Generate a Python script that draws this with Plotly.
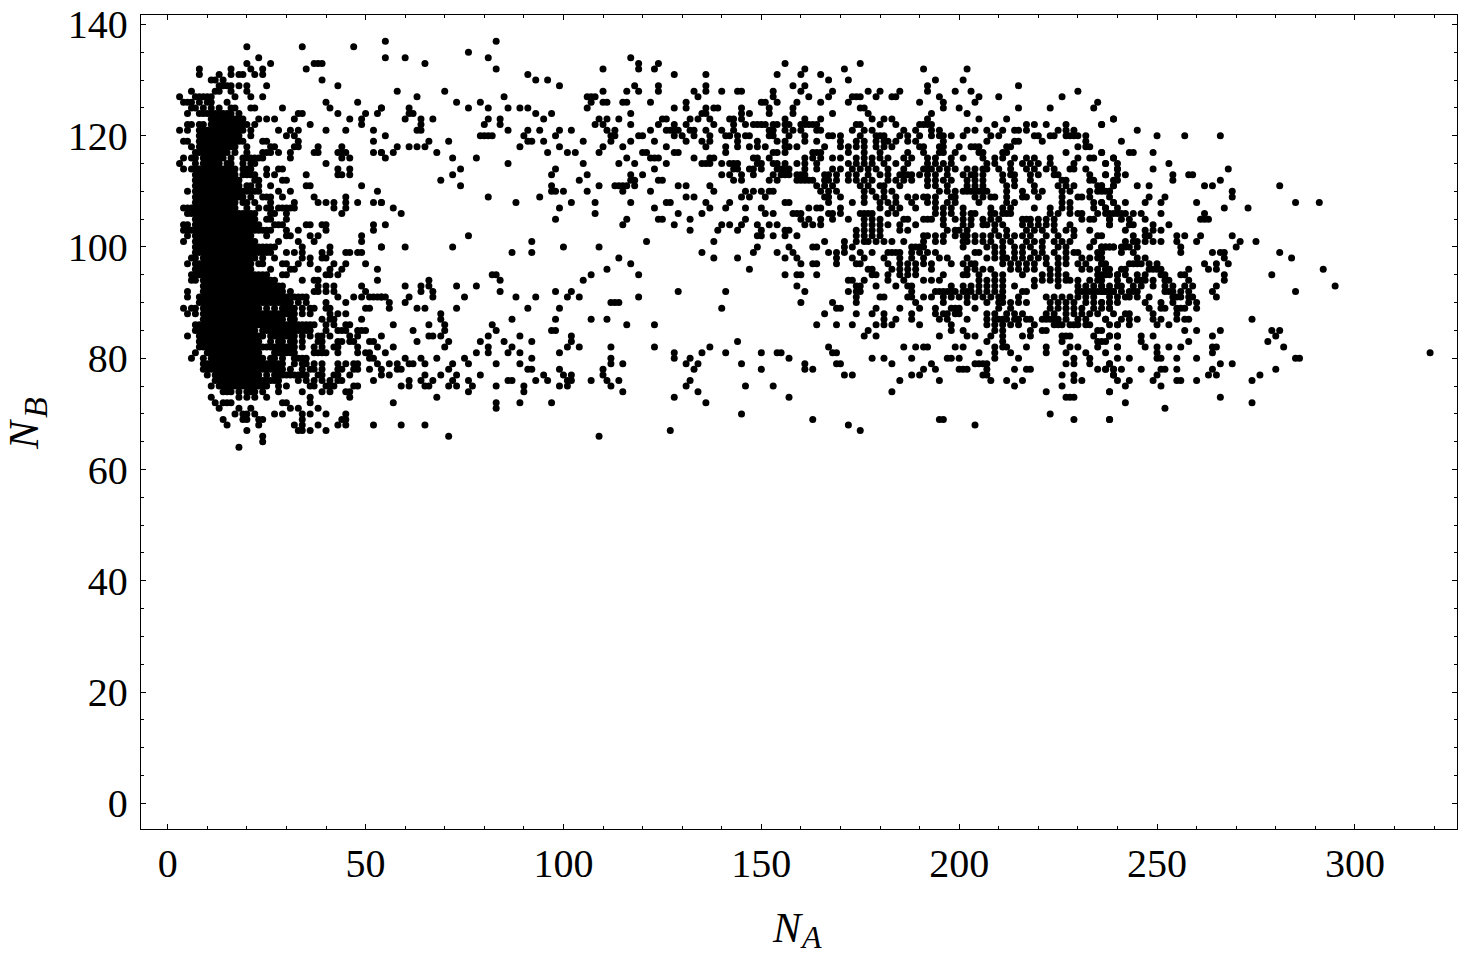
import plotly.graph_objects as go

# NB level -> NA values, by region of the plot
LEFT_ROWS = {
136:[20,34,47],134:[23],133:[20,26,37,38,39],132:[8,16,21,24,35],131:[8,13,16,18,19,22,24],
130:[11,12,14,39],129:[13,14,15,16,18,20,25,43],128:[6,12,13,16,20],127:[3,7,8,9,10,11,17,21,24],
126:[4,5,6,8,10,11,15,40,48],125:[6,7,9,11,13,16,17,21,22,29,41,54],
124:[5,8,9,10,11,12,13,14,15,16,18,33,34,43,50,53],
123:[11,12,13,14,15,16,17,18,19,23,25,27,32,46,49],
122:[5,6,8,9,11,12,13,14,15,16,17,18,19,20,22,36,49],
121:[3,5,8,9,10,11,12,13,14,15,16,17,18,19,21,28,31,33,40,45,52],
120:[8,9,10,11,12,13,14,15,16,17,18,21,30,32],
119:[4,5,8,9,10,11,12,13,14,15,16,17,18,19,24,25,33,52],
118:[6,8,9,10,11,12,13,14,15,16,17,20,26,27,32,33,38,44],
117:[7,8,9,10,11,12,13,14,15,17,20,24,25,26,28,31,37,38,43,44,45,52,54],
116:[4,6,7,9,10,11,12,13,14,16,19,20,21,22,23,24,31,44,46],
115:[3,7,9,10,11,12,13,15,16,19,21,22,40],
114:[4,6,7,8,9,10,11,12,13,14,15,16,17,19,20,21,25,28,29,43,46],
113:[7,8,9,10,11,12,13,14,15,16,17,19,20,21,22,25,27,35,43,44,46],
112:[7,8,9,10,11,12,13,14,15,16,17,18,22,23,29,30],
111:[7,8,9,10,11,12,13,14,15,16,17,18,20,21,23,26,35,36,49],
110:[5,7,8,9,10,11,12,13,14,15,16,17,18,19,20,21,22,23,28,31,53],
109:[7,8,9,10,11,12,13,14,15,16,17,18,19,21,24,25,26,29,37,45],
108:[7,8,9,10,11,12,13,14,15,16,17,19,20,22,26,32,38,40,42,45,48,52,54],
107:[4,5,6,7,8,9,10,11,12,13,14,15,16,17,20,23,25,26,28,29,30,31,32,42,45],
106:[5,6,7,8,9,10,11,12,13,14,15,16,17,18,19,20,21,22,26,27,30,44],
105:[7,8,9,10,11,12,13,14,15,16,17,18,19,20,21,22,25,26,30],
104:[4,5,7,8,9,10,11,12,13,14,15,16,17,18,19,20,21,22,23,27,28,29,35,36,39,40,52],
103:[4,5,6,7,8,9,10,11,12,13,14,15,16,17,18,19,20,21,22,23,24,25,26,30,33,40,52],
102:[5,7,8,9,10,11,12,13,14,15,16,17,18,19,20,21,25,30,31,36,38,49],
101:[4,7,8,9,10,11,12,13,14,15,16,17,18,19,20,21,22,28,33,37,49],
100:[7,8,9,10,11,12,13,14,15,16,17,18,19,20,21,22,23,24,25,26,27,34,41,54],
99:[7,8,9,10,11,12,13,14,15,16,17,18,19,20,21,22,23,24,25,26,30,32,34,39,41,45,46,48,49],
98:[6,7,9,10,11,12,13,14,15,16,17,18,19,20,21,22,24,27,34,36,39,40],
97:[5,7,8,9,10,11,12,13,14,15,16,17,18,19,20,21,23,24,29,30,33,36,42,45,50],
96:[7,8,9,10,11,12,13,14,15,16,17,18,19,20,21,26,31,32,38,41,44,53],
95:[6,7,8,9,10,11,12,13,14,15,16,17,18,19,20,21,22,23,24,25,29,30,40,41,43],
94:[6,7,9,10,11,12,13,14,15,16,17,18,19,20,21,22,23,24,25,26,27,34,37,38,53],
93:[9,10,11,12,13,14,15,16,17,18,19,20,21,22,23,24,25,26,27,28,29,38,40,42,49],
92:[5,9,10,11,12,13,14,15,16,17,18,19,20,21,22,23,24,25,26,27,28,29,31,37,38,40,42,50],
91:[5,8,9,10,11,12,13,14,15,16,17,18,19,20,21,22,23,24,25,26,27,28,29,30,31,32,33,34,35,43,47,49,51,52,53,54],
90:[8,9,10,11,12,13,14,15,16,17,18,19,20,21,22,23,24,25,26,27,28,29,30,31,33,35,40,45],
89:[4,6,7,9,10,11,12,13,14,15,16,17,18,19,20,21,22,23,25,27,29,30,31,32,34,36,37,40,41,50,51],
88:[5,7,9,10,11,12,13,14,15,16,17,18,19,20,21,22,23,24,25,26,27,28,29,30,31,32,34,36,41,43,45],
87:[9,10,11,12,13,14,15,16,17,18,19,20,21,22,23,24,25,26,27,28,29,31,32,39,41,42,49],
86:[7,8,9,10,11,12,13,14,15,16,17,18,19,20,21,22,23,24,25,26,27,28,29,30,31,32,33,34,35,36,37,40,42,45,46],
85:[7,8,9,10,11,12,13,14,15,16,17,18,19,20,21,22,24,25,26,27,28,29,30,31,32,33,34,35,36,40,43,44,45,48,49,50],
84:[5,8,9,10,11,12,13,14,15,16,17,18,19,20,21,22,23,24,26,27,28,29,30,31,32,34,36,38,39,41,46,48],
83:[8,9,10,11,12,13,14,15,16,17,18,19,20,21,22,23,26,28,29,31,32,34,38,39,43,44,46,47,51,52],
82:[8,9,10,11,12,13,14,15,16,17,18,19,20,21,22,23,24,25,26,27,28,29,30,31,32,34,37,39,42,43,48,53],
81:[7,10,11,12,13,14,15,16,17,18,19,20,21,22,23,27,28,29,30,31,32,37,38,39,40,43,48,50,51],
80:[6,9,11,12,13,14,15,16,17,18,19,20,21,22,23,24,26,27,29,32,33,34,35,51,52],
79:[9,10,11,12,13,14,15,16,17,18,19,20,21,22,23,24,25,26,27,28,29,32,34,35,37,39,43,45,47,48,53],
78:[9,10,11,12,13,14,15,16,17,18,19,20,21,22,23,24,25,26,27,28,29,31,34,36,37,39,43,44,47,48,51],
77:[10,12,13,14,15,16,17,18,19,20,21,22,23,25,27,28,29,30,31,32,33,34,35,38,39,42,43,46,54],
76:[12,13,14,15,16,17,18,19,20,21,22,23,24,25,26,27,28,33,35,37,39,41,43,44,52],
75:[11,13,14,15,16,17,18,19,20,21,22,23,24,25,28,30,36,37,40,41,42,47,48],
74:[14,15,16,18,20,21,22,24,28,34,39,41,45,46],
73:[11,18,20,22,25,36,46],72:[12,14,15,16,29,30,36],71:[13,18,21,31,33,38],
70:[17,19,20,22,27,29,34,36,40,45],69:[14,19,20,23,24,34,44,45],68:[15,23,32,34,38,43,45,52],
67:[20,33,34,36,40],66:[24],65:[24],64:[18],
}

MIDDLE_ROWS = {
137:[55,83],135:[76],134:[55,60,81,117],133:[65,119,124],132:[83,110,119,123],131:[91,128,136,154],
130:[93,96],129:[99,118,124,136],128:[58,70,110,116,119,124,133,136,140,144,145,153],
127:[63,85,106,107,108,134,153],126:[73,79,107,110,111,115,116,122,131,150,151,154],
125:[54,61,76,81,86,89,91,106,128,131,136,138,139,145,152],
124:[61,62,93,97,117,135,136,145,147,152],
123:[60,64,67,81,84,95,109,111,114,125,126,132,134,137,142,143,145],
122:[64,80,84,108,110,117,124,128,131,138,143,146,148,149,150,151,153,154],
121:[63,64,86,91,94,99,102,111,113,122,126,127,128,129,132,133,136,140,143,152,153],
120:[55,79,80,81,82,90,98,112,113,119,120,128,130,133,137,141,142,144,146,147,152,153],
119:[66,71,91,92,95,105,112,117,123,131,135,137,144,149,154],
118:[58,61,63,65,89,99,110,115,126,136,141,144,147,149,151],
117:[54,57,68,96,101,103,109,120,121,128,129,141,153,154],
116:[55,72,78,116,122,123,124,133,137,138,148,149,152],
115:[86,105,114,118,126,135,136,137,140,142,143,144,149,150,153,154],
114:[74,98,123,143,144,147,148,150,154],113:[72,97,106,117,120,140,142,145,148,153],
112:[69,104,117,118,124,125,143,145,152,154],111:[74,97,109,113,114,115,116,118,129,131,137],
110:[97,98,100,106,115,122,138,146,148,150,152,153],109:[81,94,131,133,145,147,151],
108:[54,88,102,108,117,126,127,136,142],107:[57,99,123,137,141,146,150],
106:[59,108,129,135,151,153],105:[98,116,124,125,132,146],104:[55,115,128,140,142,145,149,152,154],
103:[132,139,144,150],102:[76,149,150,153],101:[92,121,138],100:[54,60,72,100,109,149],
99:[87,92,135,148,154],98:[114,138,144],97:[117],96:[111,147],95:[82,83,107,119],
94:[66,84,105],93:[60,64,66,73,78],92:[64,67,84,98,102,129,141],
91:[54,55,61,67,75,88,93,101,104,119],90:[56,60,112,113,114],89:[56,63,65,73,91,99,140],
88:[69],87:[69,87,98,107,111],86:[57,66,70,82,116,123],85:[62,70,83,97,98],
84:[54,66,67,69,81,89,102],83:[63,71,79,85,92,102,144],82:[57,70,81,87,101,104,112,123,137],
81:[55,78,81,86,89,99,128,135,141,150,154],80:[60,64,68,75,92,112,128,132],
79:[56,58,61,62,65,72,76,83,89,112,115,131,134,145],78:[54,58,59,71,91,92,99,110,133,150],
77:[56,65,69,73,79,95,100,102,110],
76:[61,64,67,72,76,86,87,93,96,101,102,107,111,114,132],
75:[59,61,65,66,71,73,77,83,90,99,101,112,131,146,153],74:[76,90,115,134],73:[68,128],
72:[57,83,89,97,136],71:[83],70:[145],68:[59,65],67:[127],66:[71,109],
}

CENTRE_ROWS = {
133:[156,175],132:[161,171,191,202],131:[160,165],130:[167,172,194,201],129:[158,161,192,215],
128:[160,168,177,180,185,192,199,203,230],127:[162,167,173,174,175,179,183,184,195,205,210,226],
126:[159,165,172,190,196,204,235],125:[158,175,176,196,200,215,223,234],124:[158,168,177,193,202],
123:[156,161,165,178,181,183,192,205,212,239],
122:[156,157,160,161,162,163,164,174,175,180,184,190,191,192,193,209,217,219,222,227,236],
121:[156,158,160,164,165,173,176,178,186,189,193,195,202,204,207,211,214,215,217,225,227,229],
120:[157,161,167,168,170,175,179,180,181,185,187,190,193,195,196,198,201,208,210,219,220,223,224,227,228,229,230,232],
119:[156,161,164,170,174,176,179,181,182,184,187,189,196,207,214,215,221,232],
118:[156,157,159,166,170,172,174,176,179,181,183,190,191,195,196,200,203,204,205,212,213,230,232,233],
117:[156,163,164,165,172,176,180,187,191,195,196,199,205,206,211,212,227,236],
116:[161,163,165,168,170,174,176,178,180,182,186,188,192,194,198,201,206,209,211,214,217,219,223,230,233,234,239],
115:[156,159,161,164,172,174,176,178,181,184,187,192,194,196,198,207,209,213,216,218,220,223,229,237],
114:[155,156,157,161,164,168,170,173,175,177,179,182,186,191,192,193,195,197,199,202,204,206,207,210,213,217,219,222,224,228,229,232,240],
113:[155,156,157,159,160,161,166,167,169,172,174,177,180,182,185,186,187,188,190,192,194,197,201,203,204,206,211,213,214,218,220,224,225,233,237],
112:[159,160,161,162,163,166,167,169,172,174,176,178,182,184,186,188,192,194,196,198,202,204,206,211,214,218,226,227,233,234],
111:[164,166,168,175,177,180,181,185,192,194,197,202,204,206,212,214,219,225,227,229,235,236,239],
110:[165,167,169,176,178,181,183,195,197,199,201,202,203,204,205,206,207,212,216,219,221,226,228,233,235,238],
109:[166,167,170,176,179,181,184,187,189,191,192,194,198,199,204,206,208,209,212,216,217,220,226,230,231,233],
108:[156,157,167,173,176,180,182,184,188,192,194,197,199,205,212,214,226,228,234,236,239],
107:[162,164,165,170,180,183,185,189,194,196,198,201,208,211,213,219,223,226,228,234,237,240],
106:[158,159,160,167,168,170,175,176,177,178,182,184,194,196,198,201,203,204,208,209,211,212,213,223,225,228,230,231,235,237,239],
105:[160,162,165,168,172,176,178,180,186,187,191,192,193,196,199,201,203,206,208,210,216,217,218,220,222,224,231,233,234,238],
104:[161,163,165,176,178,180,182,185,189,196,201,203,206,207,209,211,216,218,220,222,224,228,238],
103:[156,157,174,176,178,180,185,187,197,199,200,202,209,212,217,219,221,224,227,229,233],
102:[156,159,174,176,178,180,191,192,194,196,199,201,202,204,206,208,210,212,214,216,218,222,225,229,235],
101:[166,171,174,176,177,179,181,183,186,191,194,196,201,202,204,206,208,211,213,217,219,221,224,226,228,234],
100:[157,163,164,171,173,188,189,190,191,201,207,209,211,214,216,218,221,225,227,233,236,237,238,239],
99:[158,167,169,171,175,178,182,183,184,185,188,190,192,194,204,205,209,211,214,216,219,221,224,227,229,230,235],
98:[156,159,169,173,176,181,185,188,191,195,197,202,207,209,211,212,214,216,218,220,222,225,227,231,233,235],
97:[160,163,164,169,174,175,182,185,187,189,191,193,198,201,203,204,211,213,215,217,219,222,225,227,230,232,236],
96:[177,178,183,185,187,189,193,202,204,206,208,213,215,217,219,223,225,231,233,235,237],
95:[156,159,160,164,178,179,182,185,187,189,196,201,202,205,209,211,216,221,223,225,227,235,237,240],
94:[172,173,176,182,186,191,193,195,205,207,209,211,219,221,223,225,227,228,230,233,235],
93:[159,174,175,179,184,187,188,198,201,203,205,207,209,211,214,219,225,230,232,234,236,238],
92:[161,172,174,175,188,194,195,196,197,198,199,201,202,203,205,207,209,211,216,217,230,231,232,233,234,235,236,237,239],
91:[174,180,181,187,188,191,193,196,198,200,202,204,206,208,210,211,215,222,224,226,228,230,232,234,238],
90:[160,168,174,189,196,202,207,210,211,213,215,217,223,225,227,229,232,234,236,238],
89:[169,170,179,185,190,194,198,199,200,204,210,213,223,225,227,229,231,234,236,238],
88:[166,174,178,181,188,194,196,197,199,200,207,209,212,214,216,222,224,227,229,231,233,235],
87:[181,184,188,195,197,202,207,209,210,211,212,214,215,217,218,221,222,223,224,225,227,230,232,237],
86:[164,169,173,179,181,183,190,198,207,209,211,213,215,219,224,225,226,228,229,230,232,233,238,240],
85:[177,198,201,209,211,218,221,222,235],84:[176,179,195,202,204,208,211,216,218,226,227,228,234,238,240],
83:[207,211,226,235,237],82:[167,186,189,191,192,199,201,209,211,212,217,222,228,230,235,240],
81:[155,168,169,205,209,213,222,227,232,237],80:[157,178,181,188,197,198,200,209,215,229,233],
79:[161,169,170,183,193,204,205,206,207,227,229,233,238],
78:[161,163,191,194,200,201,202,207,214,217,218,235,237,239],77:[171,173,188,190,206,207,226,229,239],
76:[185,195,208,212,216,229,231],75:[214,226],74:[183,222,238],73:[157,227,228,229],70:[223],
69:[163,195,196,229,238],68:[172,204],67:[175],
}

RIGHT_ROWS = {
123:[239],122:[236],121:[245],120:[250,257,266],119:[241],117:[236,243,244,249],116:[239],
115:[237,240,253],114:[240,249,268],113:[237,240,242,254,258,259],112:[239,240,254,266],
111:[236,239,245,248,262,264,281],110:[236,237,238,269],109:[238,248,252,269],
108:[236,239,242,247,251,260,285,291],107:[237,267,273],106:[238,240,241,242,244,246,251,262],
105:[238,241,243,247,261,262,263],104:[238,243,244,249,253],103:[242,247,249,251],
102:[236,244,247,248,255,257,261,269],101:[242,244,245,247,249,251,255,260,271,275],
100:[236,237,238,239,241,242,243,245,256,270],99:[236,241,244,256,264,266,267,281],
98:[236,245,247,267,284],97:[236,237,243,244,245,246,248,250,262,265,268],
96:[237,238,241,242,248,249,250,251,258,263,265,292],95:[236,238,240,242,245,247,251,252,256,257,267,279],
94:[236,240,243,245,246,247,249,252,253,258,267],93:[236,240,241,244,246,249,252,254,257,259,265,295],
92:[236,237,238,239,241,243,244,245,252,253,254,256,258,264,285],
91:[240,242,243,245,248,254,255,256,258,259,265],90:[236,238,240,247,251,254,258,260],
89:[238,248,251,252,255,256,257,260],88:[239,242,243,249,255],87:[237,241,243,245,249,251,255,257,258,274],
86:[240,243,250,253],85:[236,257,260,266,279,281],84:[238,240,246,249,264,280],83:[236,246,258,278],
82:[240,247,250,253,256,264,265,282],81:[250,264,319],80:[240,243,250,251,255,260,285,286],
79:[238,266,269],78:[237,239,241,246,251,252,255,264,280],77:[239,250,263,265,276],
76:[240,243,249,255,256,260,274],75:[242,251],74:[238],73:[266],72:[242,274],71:[252],69:[238],
}

X_TICKS = [0, 50, 100, 150, 200, 250, 300]
Y_TICKS = [0, 20, 40, 60, 80, 100, 120, 140]

na, nb = [], []
for rows in (LEFT_ROWS, MIDDLE_ROWS, CENTRE_ROWS, RIGHT_ROWS):
    for level, values in rows.items():
        for v in values:
            na.append(v)
            nb.append(level)

W, H = 1458, 958
SERIF = "Liberation Serif"
PAD_L, PAD_R, PAD_T, PAD_B = 141, 1, 15, 129

fig = go.Figure(go.Scatter(x=na, y=nb, mode="markers",
                           marker=dict(color="black", size=7, line=dict(width=0)),
                           hoverinfo="skip"))

axis_common = dict(
    showgrid=False, zeroline=False, showline=True, linecolor="black", linewidth=1.3,
    mirror="allticks", ticks="inside", ticklen=5, tickwidth=1, tickcolor="black",
    tickfont=dict(family=SERIF, size=40, color="black"),
)
fig.update_xaxes(range=[-6.75, 325.8], tickvals=X_TICKS, ticktext=[str(v) for v in X_TICKS],
                 minor=dict(dtick=10, tick0=0, ticks="inside", ticklen=3, tickwidth=1, tickcolor="black"),
                 ticklabelstandoff=-1, **axis_common)
fig.update_yaxes(range=[-4.62, 141.7], tickvals=Y_TICKS, ticktext=[str(v) for v in Y_TICKS],
                 minor=dict(dtick=5, tick0=0, ticks="inside", ticklen=3, tickwidth=1, tickcolor="black"),
                 ticklabelstandoff=4, **axis_common)

fig.update_layout(width=W, height=H, autosize=False, showlegend=False,
                  plot_bgcolor="white", paper_bgcolor="white",
                  margin=dict(l=PAD_L, r=PAD_R, t=PAD_T, b=PAD_B))

def outer(text, px, py, size, angle=0):
    # positions in page pixels converted to paper coordinates of the plot area
    fx = (px - PAD_L) / (W - PAD_L - PAD_R)
    fy = 1 - (py - PAD_T) / (H - PAD_T - PAD_B)
    fig.add_annotation(text=f"<i>{text}</i>", x=fx, y=fy, xref="paper", yref="paper",
                       showarrow=False, textangle=angle, xanchor="center", yanchor="middle",
                       font=dict(family=SERIF, size=size, color="black"))

outer("N", 787, 928, 42)
outer("A", 811, 937, 32)
outer("N", 24, 435, 42, -90)
outer("B", 35, 408, 34, -90)

fig.write_html("out.html", config={"displayModeBar": False},
               post_script="document.body.style.margin='0';")
